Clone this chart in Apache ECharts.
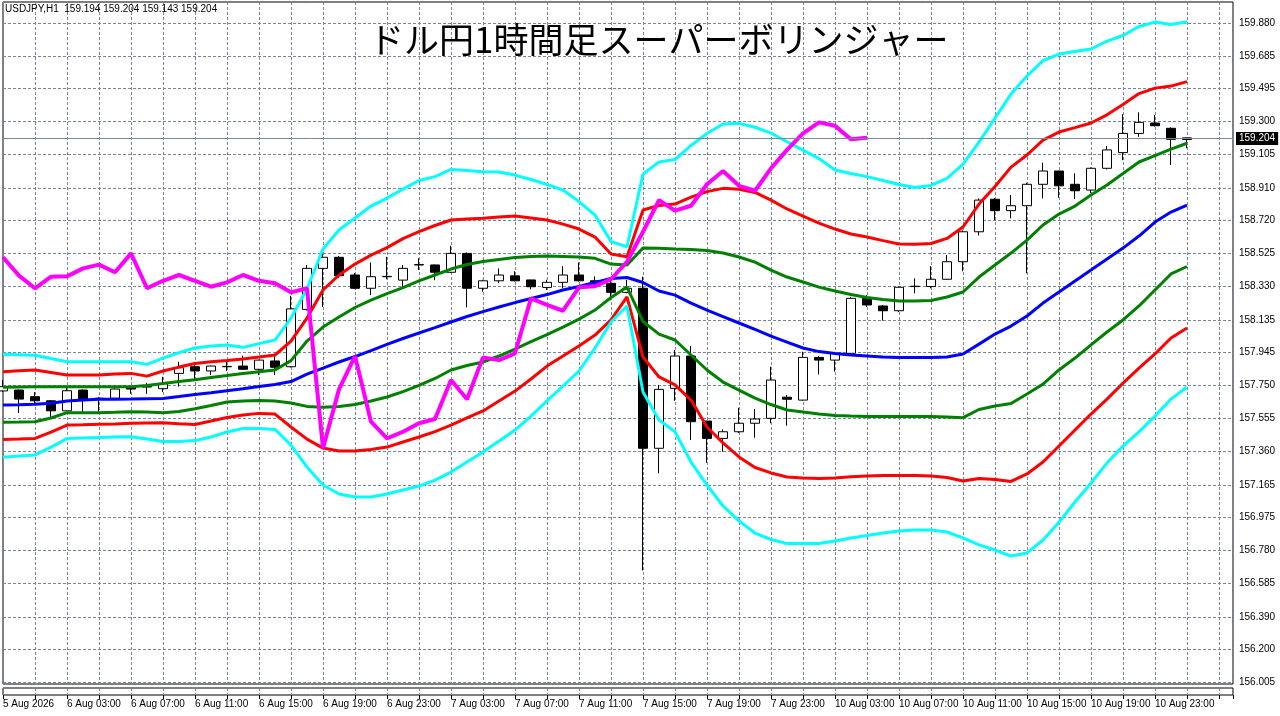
<!DOCTYPE html>
<html>
<head>
<meta charset="utf-8">
<title>ドル円1時間足スーパーボリンジャー</title>
<script src="https://cdn.jsdelivr.net/npm/echarts@6/dist/echarts.min.js"></script>
<style>
html, body { margin: 0; padding: 0; background: #fff; }
#chart { width: 1280px; height: 716px; }
</style>
</head>
<body>
<div id="chart"></div>
<script>
var symbol = 'USDJPY,H1';
var chartTitle = 'ドル円1時間足スーパーボリンジャー';

// one label every 4 bars (H1)
var timeLabels = ['5 Aug 2026', '6 Aug 03:00', '6 Aug 07:00', '6 Aug 11:00', '6 Aug 15:00', '6 Aug 19:00',
  '6 Aug 23:00', '7 Aug 03:00', '7 Aug 07:00', '7 Aug 11:00', '7 Aug 15:00', '7 Aug 19:00', '7 Aug 23:00',
  '10 Aug 03:00', '10 Aug 07:00', '10 Aug 11:00', '10 Aug 15:00', '10 Aug 19:00', '10 Aug 23:00'];

var priceTicks = [156.005, 156.200, 156.390, 156.585, 156.780, 156.975, 157.165, 157.360, 157.555, 157.750,
  157.945, 158.135, 158.330, 158.525, 158.720, 158.910, 159.105, 159.300, 159.495, 159.685, 159.880];

var opens = [
  157.717, 157.722, 157.683, 157.659, 157.600, 157.722, 157.672, 157.674, 157.742, 157.740,
  157.730, 157.820, 157.859, 157.834, 157.859, 157.863, 157.844, 157.893, 157.859, 158.196,
  158.437, 158.502, 158.398, 158.320, 158.388, 158.368, 158.457, 158.457, 158.414, 158.525,
  158.320, 158.364, 158.393, 158.369, 158.325, 158.355, 158.398, 158.364, 158.349, 158.296,
  158.320, 157.380, 157.732, 157.922, 157.540, 157.438, 157.477, 157.527, 157.556, 157.680,
  157.663, 157.914, 157.898, 157.938, 158.261, 158.216, 158.188, 158.330, 158.330, 158.373,
  158.476, 158.652, 158.843, 158.776, 158.805, 158.931, 159.009, 158.931, 158.897, 159.025,
  159.117, 159.230, 159.291, 159.260, 159.194];
var closes = [
  157.742, 157.669, 157.659, 157.600, 157.718, 157.669, 157.674, 157.728, 157.728, 157.742,
  157.760, 157.853, 157.834, 157.863, 157.861, 157.844, 157.898, 157.856, 158.199, 158.437,
  158.502, 158.394, 158.320, 158.388, 158.390, 158.437, 158.459, 158.414, 158.525, 158.320,
  158.364, 158.398, 158.364, 158.329, 158.355, 158.398, 158.364, 158.349, 158.296, 158.320,
  157.380, 157.726, 157.922, 157.536, 157.438, 157.477, 157.527, 157.552, 157.781, 157.668,
  157.914, 157.898, 157.938, 158.261, 158.222, 158.188, 158.326, 158.332, 158.373, 158.476,
  158.652, 158.838, 158.776, 158.805, 158.931, 159.009, 158.922, 158.893, 159.025, 159.133,
  159.230, 159.295, 159.275, 159.195, 159.204];
var lows = [
  157.712, 157.587, 157.646, 157.565, 157.598, 157.591, 157.590, 157.672, 157.700, 157.700,
  157.710, 157.742, 157.781, 157.810, 157.834, 157.840, 157.810, 157.810, 157.855, 158.190,
  158.210, 158.380, 158.315, 158.280, 158.373, 158.329, 158.427, 158.368, 158.410, 158.208,
  158.300, 158.350, 158.360, 158.314, 158.310, 158.320, 158.360, 158.330, 158.250, 158.290,
  156.662, 157.233, 157.659, 157.428, 157.295, 157.360, 157.470, 157.442, 157.527, 157.513,
  157.660, 157.814, 157.830, 157.930, 158.210, 158.130, 158.180, 158.290, 158.320, 158.370,
  158.420, 158.630, 158.721, 158.731, 158.408, 158.848, 158.852, 158.845, 158.880, 159.018,
  159.073, 159.210, 159.270, 159.044, 159.143];
var highs = [
  157.781, 157.725, 157.710, 157.663, 157.742, 157.725, 157.680, 157.732, 157.745, 157.764,
  157.800, 157.888, 157.888, 157.866, 157.888, 157.924, 157.900, 157.928, 158.276, 158.457,
  158.540, 158.510, 158.410, 158.472, 158.505, 158.457, 158.496, 158.460, 158.570, 158.530,
  158.370, 158.437, 158.420, 158.370, 158.370, 158.450, 158.472, 158.390, 158.370, 158.370,
  158.388, 157.752, 157.957, 157.981, 157.540, 157.491, 157.618, 157.611, 157.859, 157.693,
  157.947, 157.922, 157.945, 158.270, 158.280, 158.222, 158.330, 158.378, 158.450, 158.515,
  158.660, 158.848, 158.850, 158.868, 158.940, 159.058, 159.010, 158.995, 159.030, 159.156,
  159.343, 159.354, 159.338, 159.266, 159.204];

// super bollinger lines
var upper3 = [
  157.932, 157.930, 157.927, 157.907, 157.888, 157.888, 157.888, 157.888, 157.888, 157.873,
  157.910, 157.942, 157.969, 157.981, 157.987, 157.973, 157.995, 158.016, 158.145, 158.316,
  158.551, 158.662, 158.733, 158.803, 158.850, 158.903, 158.953, 158.976, 159.018, 159.012,
  159.005, 159.003, 158.985, 158.959, 158.930, 158.897, 158.829, 158.750, 158.594, 158.564,
  158.991, 159.062, 159.076, 159.159, 159.229, 159.285, 159.289, 159.266, 159.232, 159.181,
  159.132, 159.082, 159.015, 158.994, 158.976, 158.953, 158.930, 158.912, 158.924, 158.966,
  159.050, 159.179, 159.320, 159.461, 159.567, 159.658, 159.696, 159.711, 159.726, 159.772,
  159.805, 159.858, 159.884, 159.870, 159.886];
var upper2 = [
  157.830, 157.835, 157.840, 157.825, 157.810, 157.810, 157.810, 157.816, 157.820, 157.804,
  157.834, 157.857, 157.878, 157.888, 157.895, 157.905, 157.916, 157.928, 158.010, 158.145,
  158.310, 158.398, 158.462, 158.515, 158.559, 158.612, 158.653, 158.689, 158.721, 158.727,
  158.731, 158.739, 158.744, 158.733, 158.721, 158.697, 158.668, 158.621, 158.521, 158.505,
  158.780, 158.806, 158.815, 158.856, 158.888, 158.907, 158.902, 158.883, 158.838, 158.786,
  158.744, 158.703, 158.668, 158.639, 158.621, 158.600, 158.580, 158.578, 158.583, 158.613,
  158.680, 158.815, 158.918, 159.032, 159.103, 159.191, 159.238, 159.264, 159.291, 159.339,
  159.400, 159.464, 159.496, 159.508, 159.534];
var upper1 = [
  157.738, 157.740, 157.742, 157.742, 157.742, 157.742, 157.742, 157.742, 157.742, 157.749,
  157.760, 157.772, 157.783, 157.796, 157.807, 157.819, 157.830, 157.840, 157.895, 158.010,
  158.092, 158.151, 158.207, 158.251, 158.289, 158.324, 158.363, 158.398, 158.433, 158.460,
  158.477, 158.489, 158.501, 158.507, 158.510, 158.507, 158.504, 158.496, 158.462, 158.457,
  158.557, 158.555, 158.551, 158.548, 158.542, 158.527, 158.504, 158.474, 158.427, 158.386,
  158.357, 158.327, 158.304, 158.283, 158.266, 158.254, 158.245, 158.245, 158.248, 158.269,
  158.298, 158.386, 158.457, 158.527, 158.603, 158.692, 158.756, 158.803, 158.868, 158.927,
  158.994, 159.062, 159.100, 159.138, 159.172];
var middle = [
  157.634, 157.636, 157.639, 157.644, 157.658, 157.663, 157.668, 157.668, 157.669, 157.671,
  157.673, 157.684, 157.696, 157.706, 157.718, 157.730, 157.743, 157.755, 157.772, 157.816,
  157.851, 157.887, 157.919, 157.954, 157.990, 158.025, 158.057, 158.089, 158.122, 158.154,
  158.183, 158.210, 158.236, 158.260, 158.283, 158.310, 158.330, 158.354, 158.377, 158.383,
  158.354, 158.304, 158.280, 158.233, 158.192, 158.154, 158.116, 158.078, 158.039, 158.004,
  157.969, 157.948, 157.937, 157.928, 157.922, 157.916, 157.913, 157.913, 157.913, 157.916,
  157.934, 157.992, 158.051, 158.098, 158.157, 158.233, 158.298, 158.363, 158.427, 158.492,
  158.556, 158.627, 158.709, 158.768, 158.809];
var lower1 = [
  157.533, 157.534, 157.536, 157.558, 157.589, 157.589, 157.589, 157.591, 157.595, 157.593,
  157.589, 157.596, 157.612, 157.631, 157.652, 157.658, 157.660, 157.658, 157.646, 157.626,
  157.621, 157.626, 157.637, 157.658, 157.681, 157.713, 157.749, 157.790, 157.840, 157.866,
  157.887, 157.922, 157.963, 158.007, 158.048, 158.092, 158.139, 158.192, 158.266, 158.327,
  158.125, 158.051, 158.016, 157.928, 157.840, 157.769, 157.722, 157.675, 157.637, 157.605,
  157.593, 157.581, 157.573, 157.569, 157.567, 157.566, 157.566, 157.566, 157.566, 157.563,
  157.560, 157.608, 157.628, 157.643, 157.699, 157.757, 157.840, 157.910, 157.987, 158.063,
  158.134, 158.216, 158.310, 158.404, 158.448];
var lower2 = [
  157.432, 157.434, 157.438, 157.475, 157.516, 157.518, 157.521, 157.523, 157.527, 157.529,
  157.530, 157.524, 157.520, 157.540, 157.561, 157.575, 157.585, 157.581, 157.505, 157.434,
  157.381, 157.364, 157.364, 157.373, 157.387, 157.417, 157.446, 157.478, 157.516, 157.558,
  157.599, 157.658, 157.716, 157.787, 157.863, 157.922, 157.981, 158.045, 158.134, 158.270,
  157.916, 157.799, 157.752, 157.663, 157.505, 157.411, 157.329, 157.267, 157.235, 157.211,
  157.205, 157.203, 157.206, 157.213, 157.217, 157.220, 157.220, 157.220, 157.217, 157.208,
  157.188, 157.202, 157.196, 157.185, 157.229, 157.299, 157.393, 157.487, 157.581, 157.669,
  157.763, 157.851, 157.934, 158.028, 158.087];
var lower3 = [
  157.327, 157.335, 157.341, 157.387, 157.437, 157.440, 157.444, 157.446, 157.448, 157.434,
  157.420, 157.420, 157.425, 157.446, 157.476, 157.496, 157.496, 157.491, 157.399, 157.270,
  157.164, 157.111, 157.094, 157.094, 157.111, 157.135, 157.158, 157.193, 157.240, 157.299,
  157.358, 157.423, 157.487, 157.569, 157.658, 157.746, 157.834, 157.969, 158.122, 158.216,
  157.711, 157.546, 157.477, 157.299, 157.164, 157.041, 156.953, 156.882, 156.844, 156.820,
  156.820, 156.821, 156.835, 156.853, 156.867, 156.882, 156.894, 156.900, 156.900, 156.888,
  156.853, 156.812, 156.782, 156.747, 156.765, 156.841, 156.946, 157.064, 157.176, 157.293,
  157.393, 157.476, 157.569, 157.669, 157.740];
// lagging span (close drawn 20 bars back)
var lagging = [
  158.502, 158.394, 158.320, 158.388, 158.390, 158.437, 158.459, 158.414, 158.525, 158.320,
  158.364, 158.398, 158.364, 158.329, 158.355, 158.398, 158.364, 158.349, 158.296, 158.320,
  157.380, 157.726, 157.922, 157.536, 157.438, 157.477, 157.527, 157.552, 157.781, 157.668,
  157.914, 157.898, 157.938, 158.261, 158.222, 158.188, 158.326, 158.332, 158.373, 158.476,
  158.652, 158.838, 158.776, 158.805, 158.931, 159.009, 158.922, 158.893, 159.025, 159.133,
  159.230, 159.295, 159.275, 159.195, 159.204];

var myChart = echarts.init(document.getElementById('chart'));
var last = opens.length - 1;
var font = 'Liberation Sans';
var fontSize = 10;
var xMax = 76.875; // right edge incl. chart shift
var dash = { color: '#778899', type: [3, 2], width: 1 };

var candles = opens.map(function (o, i) {
  return [i, o, closes[i], lows[i], highs[i]];
});
function toLine(arr) {
  return arr.map(function (v, i) { return [i, v]; });
}
function band(name, arr, color, width) {
  return {
    name: name,
    type: 'line',
    data: toLine(arr),
    symbol: 'none',
    showSymbol: false,
    lineStyle: { color: color, width: width },
    itemStyle: { color: color },
    z: 3,
    silent: true
  };
}

var option = {
  animation: false,
  backgroundColor: '#ffffff',
  title: [{
    text: symbol + '  ' + opens[last].toFixed(3) + ' ' + highs[last].toFixed(3) + ' ' +
      lows[last].toFixed(3) + ' ' + closes[last].toFixed(3),
    left: 5, top: 4, padding: 0,
    textStyle: { fontFamily: font, fontSize: fontSize, fontWeight: 'normal', color: '#000' }
  }, {
    text: chartTitle,
    left: 369, top: 22, padding: 0,
    textStyle: { fontFamily: 'Noto Sans CJK JP', fontSize: 35, fontWeight: 'normal', color: '#000' }
  }],
  grid: [{
    left: 3, top: 2, width: 1230, height: 682,
    show: true, borderColor: '#000', borderWidth: 1,
    containLabel: false, outerBoundsMode: 'none'
  }, {
    left: 3, top: 688, width: 1230, height: 7,
    show: true, borderColor: '#000', borderWidth: 1,
    containLabel: false, outerBoundsMode: 'none'
  }],
  xAxis: [{
    type: 'value', gridIndex: 0, min: 0, max: xMax, interval: 2,
    axisLine: { show: false }, axisTick: { show: false }, axisLabel: { show: false },
    splitLine: { show: true, lineStyle: dash }
  }, {
    type: 'value', gridIndex: 1, min: 0, max: xMax, interval: 2,
    axisLine: { show: false },
    axisTick: { show: true, length: 4, lineStyle: { color: '#000' } },
    axisLabel: {
      show: true, margin: 4, align: 'left',
      fontFamily: font, fontSize: fontSize, color: '#000',
      formatter: function (v) {
        if (v % 4 !== 0) return '';
        return timeLabels[v / 4] || '';
      }
    },
    splitLine: { show: true, lineStyle: dash }
  }],
  yAxis: [{
    type: 'value', gridIndex: 0, position: 'right',
    min: 155.995, max: 160.002, scale: true,
    axisLine: { show: false },
    axisTick: { show: true, length: 3, customValues: priceTicks, lineStyle: { color: '#778899' } },
    axisLabel: {
      show: true, margin: 6, customValues: priceTicks,
      fontFamily: font, fontSize: fontSize, color: '#000',
      formatter: function (v) { return v.toFixed(3); }
    },
    splitLine: { show: true, lineStyle: dash }
  }, {
    type: 'value', gridIndex: 1, min: 0, max: 1, show: false
  }],
  series: [{
    name: symbol,
    type: 'candlestick',
    xAxisIndex: 0, yAxisIndex: 0,
    data: candles,
    encode: { x: 0, y: [1, 2, 3, 4] },
    barWidth: 9,
    clip: true,
    z: 2,
    itemStyle: {
      color: '#ffffff', color0: '#000000',
      borderColor: '#000000', borderColor0: '#000000', borderWidth: 1
    },
    markLine: {
      silent: true,
      symbol: 'none',
      data: [{ yAxis: closes[last] }],
      lineStyle: { color: '#778899', type: 'solid', width: 1 },
      label: {
        show: true, position: 'end', distance: 3,
        formatter: closes[last].toFixed(3),
        backgroundColor: '#000', color: '#fff',
        fontFamily: font, fontSize: fontSize, padding: [2, 3, 1, 3]
      }
    }
  },
    band('+3σ', upper3, '#00ffff', 3),
    band('+2σ', upper2, '#ff0000', 3),
    band('+1σ', upper1, '#008000', 3),
    band('MA', middle, '#0000ff', 3),
    band('-1σ', lower1, '#008000', 3),
    band('-2σ', lower2, '#ff0000', 3),
    band('-3σ', lower3, '#00ffff', 3),
    band('Lagging', lagging, '#ff00ff', 4)
  ]
};
myChart.setOption(option);
</script>
</body>
</html>
